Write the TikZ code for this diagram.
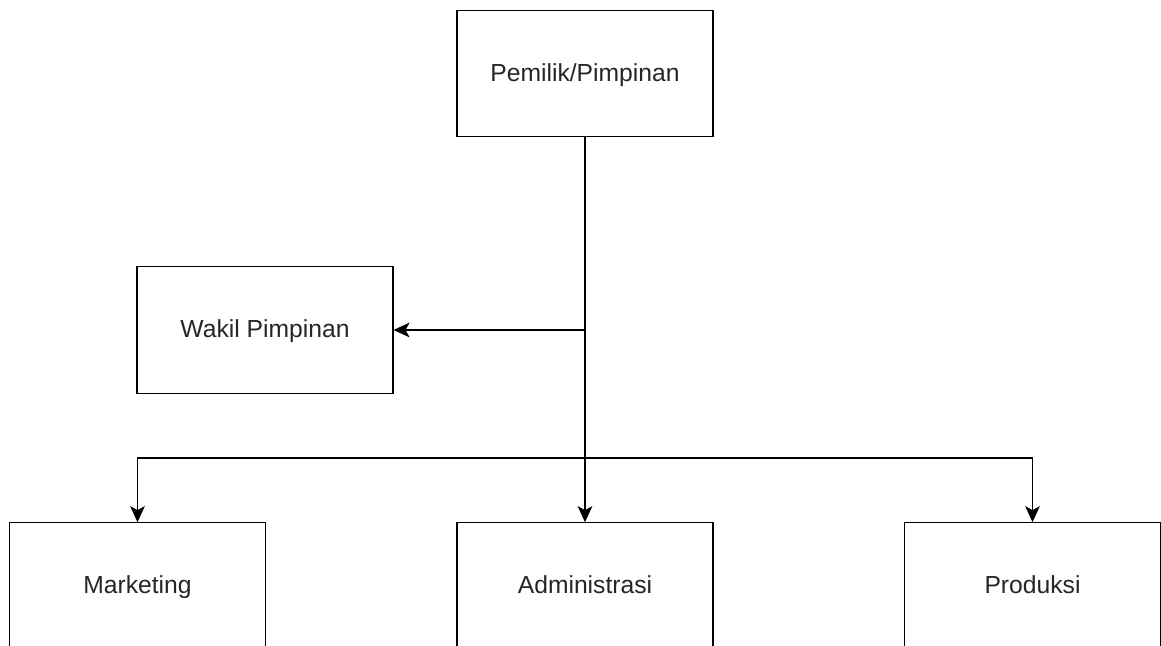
\documentclass[tikz,border=0pt]{standalone}
\usepackage{fontspec}
\setmainfont{Liberation Sans}
\usetikzlibrary{arrows.meta}

\begin{document}
\begin{tikzpicture}
      [x=.75pt,y=-.75pt
    % styles of the boxes and connectors
      ,jabatan/.style={draw=black,thick,fill=white,minimum width=192pt,minimum height=95pt,inner sep=0pt,text=black!85,text height=13pt,text depth=1.5pt,font=\fontsize{18.5}{21}\selectfont}
      ,garis/.style={draw=black,thick,-{Stealth[length=12pt,width=11pt,inset=3pt]}}
      ]
    % page frame
        \useasboundingbox (0,0) rectangle (1161,646);

        \node[jabatan] (pemilik) at (585,73.5) {Pemilik/Pimpinan};
        \node[jabatan] (wakil) at (265,330) {Wakil Pimpinan};
        \node[jabatan] (marketing) at (137.5,586) {Marketing};
        \node[jabatan] (administrasi) at (585,586) {Administrasi};
        \node[jabatan] (produksi) at (1032.5,586) {Produksi};

    % junctions on the trunk
        \coordinate (cabang) at (pemilik.south |- wakil.east);
        \coordinate (bus) at (585,458);

        \draw[garis] (pemilik) -- (administrasi);
        \draw[garis] (cabang) -- (wakil);
        \draw[garis] (bus) -| (marketing);
        \draw[garis] (bus) -| (produksi);
       \end{tikzpicture}
\end{document}
